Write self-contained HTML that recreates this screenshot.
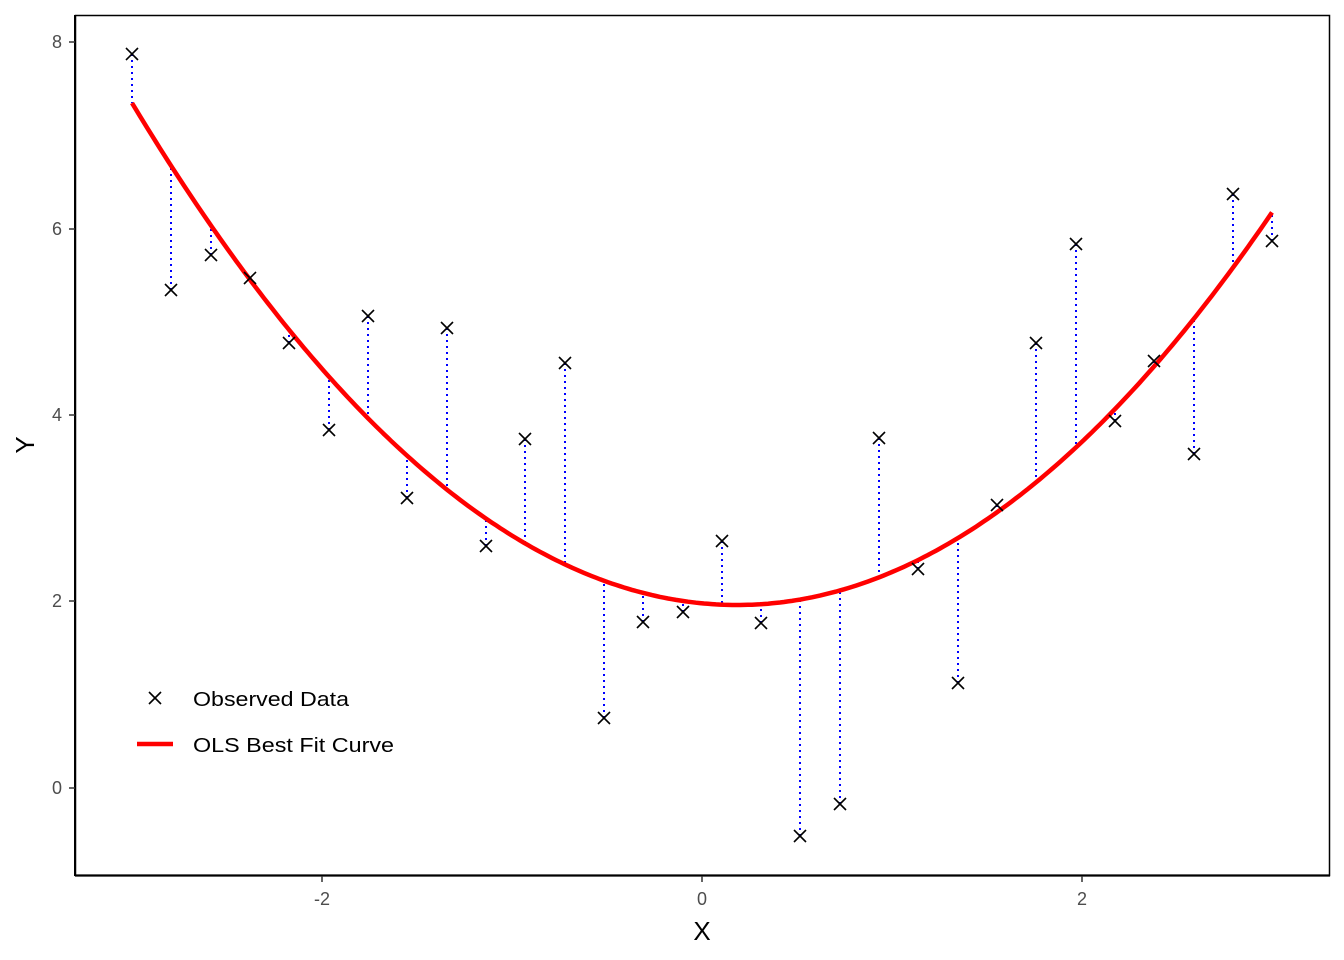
<!DOCTYPE html>
<html><head><meta charset="utf-8"><style>body{margin:0;background:#fff}svg{display:block}</style></head>
<body>
<svg id="s" width="1344" height="960" xmlns="http://www.w3.org/2000/svg" font-family="Liberation Sans, Arial, sans-serif">
<rect x="0" y="0" width="1344" height="960" fill="#fff"/>
<g id="res" stroke="#0000ff" stroke-width="2" stroke-dasharray="2,4"></g>
<path id="curve" fill="none" stroke="#ff0000" stroke-width="4.5"/>
<g id="pts" stroke="#000" stroke-width="1.6"></g>
<rect x="75.5" y="15.5" width="1254" height="860" fill="none" stroke="#000" stroke-width="1.5"/>
<line x1="75" y1="875.5" x2="1330" y2="875.5" stroke="#000" stroke-width="2.2"/>
<line x1="75" y1="15" x2="75" y2="876" stroke="#000" stroke-width="2"/>
<g stroke="#333" stroke-width="1.5">
<line x1="322" y1="876" x2="322" y2="882"/><line x1="702" y1="876" x2="702" y2="882"/><line x1="1082" y1="876" x2="1082" y2="882"/>
<line x1="69" y1="42" x2="75" y2="42"/><line x1="69" y1="229" x2="75" y2="229"/><line x1="69" y1="415" x2="75" y2="415"/><line x1="69" y1="601" x2="75" y2="601"/><line x1="69" y1="788" x2="75" y2="788"/>
</g>
<g fill="#4d4d4d" font-size="18" text-anchor="middle">
<text x="322" y="905">-2</text><text x="702" y="905">0</text><text x="1082" y="905">2</text>
</g>
<g fill="#4d4d4d" font-size="18" text-anchor="end">
<text x="62" y="48">8</text><text x="62" y="235">6</text><text x="62" y="421">4</text><text x="62" y="607">2</text><text x="62" y="794">0</text>
</g>
<text x="702" y="940" font-size="26" text-anchor="middle">X</text>
<text transform="translate(34,445) rotate(-90)" font-size="26" text-anchor="middle">Y</text>
<g stroke="#000" stroke-width="1.6"><line x1="149" y1="692" x2="161" y2="704"/><line x1="149" y1="704" x2="161" y2="692"/></g>
<line x1="137" y1="744" x2="173" y2="744" stroke="#ff0000" stroke-width="4.5"/>
<text x="193" y="706" font-size="20" textLength="156" lengthAdjust="spacingAndGlyphs">Observed Data</text>
<text x="193" y="752" font-size="20" textLength="201" lengthAdjust="spacingAndGlyphs">OLS Best Fit Curve</text>
</svg>
<script>
var P=[[132,54],[171,290],[211,255],[250,278],[289,343],[329,430],[368,316],[407,498],[447,328],[486,546],[525,439],[565,363],[604,718],[643,622],[683,612],[722,541],[761,623],[800,836],[840,804],[879,438],[918,569],[958,683],[997,505],[1036,343],[1076,244],[1115,421],[1154,361],[1194,454],[1233,194],[1272,241]];
function f(x){return 605-0.0013715*(x-737)*(x-737);}
var ns="http://www.w3.org/2000/svg",res=document.getElementById('res'),pts=document.getElementById('pts');
function L(g,a,b,c,d){var l=document.createElementNS(ns,'line');l.setAttribute('x1',a);l.setAttribute('y1',b);l.setAttribute('x2',c);l.setAttribute('y2',d);g.appendChild(l);}
P.forEach(function(p){L(res,p[0],p[1],p[0],f(p[0]));L(pts,p[0]-6,p[1]-6,p[0]+6,p[1]+6);L(pts,p[0]-6,p[1]+6,p[0]+6,p[1]-6);});
var d='';for(var x=132;x<=1272;x+=4){d+=(x==132?'M':'L')+x+','+f(x).toFixed(1);}
document.getElementById('curve').setAttribute('d',d);
</script>
</body></html>
